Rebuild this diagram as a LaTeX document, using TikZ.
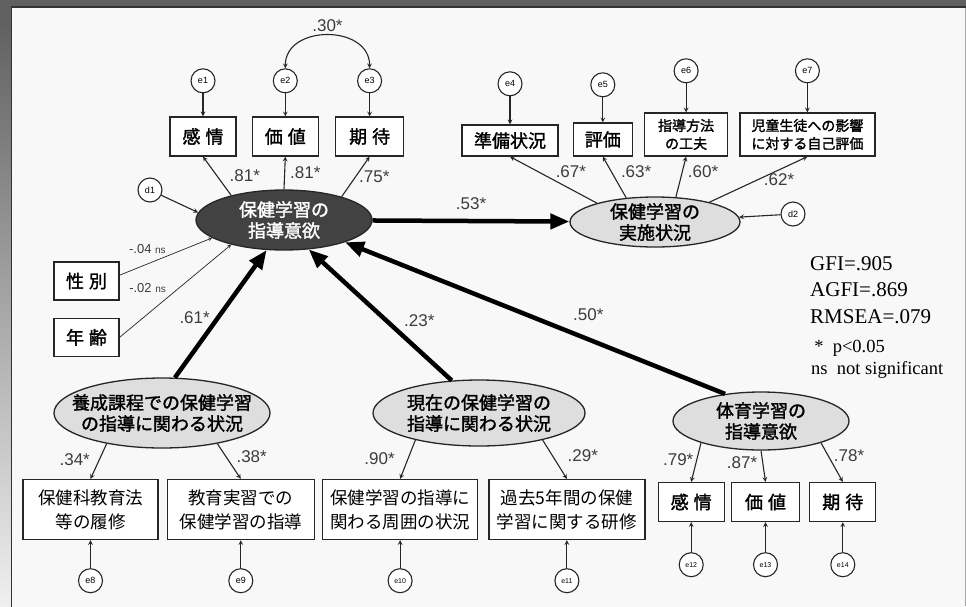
\documentclass[tikz,border=0pt]{standalone}
\usepackage{fontspec}
\setmainfont{Liberation Serif}
\newfontfamily\jpfont{Noto Sans CJK JP}
\newfontfamily\jpbold[FakeBold=1.6]{Noto Sans CJK JP}
\newfontfamily\numfont{Liberation Sans}
\usepackage{tikz}
\usetikzlibrary{shapes,arrows,arrows.meta,positioning,calc}
\usepackage{xcolor}
\definecolor{framegray}{RGB}{96,96,96}
\definecolor{panelwhite}{RGB}{248,248,248}
\definecolor{latgray}{RGB}{222,222,222}
\definecolor{darklat}{RGB}{66,66,66}
\definecolor{labelgray}{RGB}{60,60,60}

\begin{document}
\begin{tikzpicture}[
    x=1pt, y=-1pt,
    node distance=23pt,
    obsbox/.style={rectangle, draw=black!85, line width=1.3pt, fill=white, inner sep=0pt,
                   align=center, font=\jpbold\fontsize{18}{22}\selectfont},
    widebox/.style={obsbox, font=\jpfont\fontsize{17.5}{24}\selectfont},
    smallbox/.style={obsbox, font=\jpbold\fontsize{14}{18}\selectfont},
    errc/.style={circle, draw=black!85, line width=1.1pt, fill=white, minimum size=24pt,
                 inner sep=0pt, font=\numfont\fontsize{9}{9}\selectfont},
    errs/.style={errc, font=\numfont\fontsize{7}{7}\selectfont},
    latent/.style={ellipse, draw=black!85, line width=1.3pt, fill=latgray, inner xsep=-16pt,
                   inner ysep=-6pt, align=center, font=\jpbold\fontsize{18}{21}\selectfont},
    darklatent/.style={latent, fill=darklat, text=white},
    load/.style={->, >=stealth, line width=1.1pt, draw=black!85},
    demoline/.style={load, line width=0.7pt},
    heavy/.style={-{Triangle[length=19pt,width=15pt]}, line width=4.5pt, draw=black},
    coef/.style={font=\numfont\fontsize{17}{17}\selectfont, text=labelgray, inner sep=1pt},
    nscoef/.style={font=\numfont\fontsize{13}{13}\selectfont, text=labelgray, inner sep=1pt}
]
\useasboundingbox (0,0) rectangle (966,606);

% Frame
\fill[framegray] (0,0) rectangle (966,606);
\shade[top color=framegray, bottom color=black!6] (0,20) rectangle (11,606);
\filldraw[fill=panelwhite, draw=black!80, line width=1.2pt] (11.5,7) rectangle (975,610);
\draw[black!35, line width=1pt] (965,7.5) -- (965,606);

% Latent variables
\node[darklatent, minimum width=176pt, minimum height=60pt] (motiv) at (284,220) {保健学習の\\指導意欲};
\node[latent, minimum width=170pt, minimum height=50pt] (impl) at (655,222) {保健学習の\\実施状況};
\node[latent, minimum width=216pt, minimum height=70pt] (yosei) at (162,413) {養成課程での保健学習\\の指導に関わる状況};
\node[latent, minimum width=212pt, minimum height=66pt] (genzai) at (479,413) {現在の保健学習の\\指導に関わる状況};
\node[latent, minimum width=176pt, minimum height=58pt] (taiiku) at (761,421) {体育学習の\\指導意欲};

% Indicators of motivation
\node[obsbox, minimum width=66pt, minimum height=39pt] (kanjo1) at (203,136.5) {感\hspace{5pt}情};
\node[obsbox, minimum width=66pt, minimum height=39pt, right=15pt of kanjo1] (kachi1) {価\hspace{5pt}値};
\node[obsbox, minimum width=68pt, minimum height=39pt, right=16pt of kachi1] (kitai1) {期\hspace{5pt}待};
\node[errc, above=23pt of kanjo1] (e1) {e1};
\node[errc, above=23pt of kachi1] (e2) {e2};
\node[errc, above=23pt of kitai1] (e3) {e3};

% Sex and age
\node[obsbox, minimum width=65pt, minimum height=38pt] (sex) at (86.5,281) {性\hspace{5pt}別};
\node[obsbox, minimum width=65pt, minimum height=38pt, below=17pt of sex] (age) {年\hspace{5pt}齢};
\node[errc] (d1) at (150,190) {d1};
\node[errc] (d2) at (793,214) {d2};

% Indicators of implementation
\node[obsbox, minimum width=96pt, minimum height=31pt] (junbi) at (510,140.5) {準備状況};
\node[obsbox, minimum width=59pt, minimum height=33pt, right=14pt of junbi.south east, anchor=south west] (hyoka) {評価};
\node[smallbox, minimum width=83pt, minimum height=43pt, right=11pt of hyoka.south east, anchor=south west] (hoho) {指導方法\\の工夫};
\node[smallbox, minimum width=135pt, minimum height=43pt, right=11pt of hoho.south east, anchor=south west] (jido) {児童生徒への影響\\に対する自己評価};
\node[errc, above=28pt of junbi] (e4) {e4};
\node[errc, above=25pt of hyoka] (e5) {e5};
\node[errc, above=29pt of hoho] (e6) {e6};
\node[errc, above=29pt of jido] (e7) {e7};

% Indicators of the bottom factors
\node[widebox, minimum width=135pt, minimum height=60pt] (rishu) at (90.5,509.5) {保健科教育法\\等の履修};
\node[widebox, minimum width=147pt, minimum height=60pt, right=8pt of rishu] (jisshu) {教育実習での\\保健学習の指導};
\node[widebox, minimum width=155pt, minimum height=60pt, right=7pt of jisshu] (shui) {保健学習の指導に\\関わる周囲の状況};
\node[widebox, minimum width=156pt, minimum height=60pt, right=10pt of shui] (kenshu) {過去5年間の保健\\学習に関する研修};
\node[obsbox, minimum width=66pt, minimum height=39pt, below right=3pt and 12pt of kenshu.north east] (kanjo2) {感\hspace{5pt}情};
\node[obsbox, minimum width=68pt, minimum height=39pt, right=6pt of kanjo2] (kachi2) {価\hspace{5pt}値};
\node[obsbox, minimum width=66pt, minimum height=39pt, right=9pt of kachi2] (kitai2) {期\hspace{5pt}待};
\node[errc, below=28pt of rishu] (e8) {e8};
\node[errc, below=28pt of jisshu] (e9) {e9};
\node[errs, below=28pt of shui] (e10) {e10};
\node[errs, below=28pt of kenshu] (e11) {e11};
\node[errs, below=30pt of kanjo2] (e12) {e12};
\node[errs, below=30pt of kachi2] (e13) {e13};
\node[errs, below=30pt of kitai2] (e14) {e14};

% Loadings
\draw[load] (motiv.155) -- node[coef, pos=0.5, right=11pt] {.81*} (kanjo1.south);
\draw[load] (motiv.90) -- node[coef, pos=0.5, right=4pt] {.81*} (kachi1.south);
\draw[load] (motiv.22) -- node[coef, pos=0.5, right=2pt] {.75*} (kitai1.south);
\draw[load] (impl.162) -- node[coef, pos=0.3, above=10pt] {.67*} (junbi.south);
\draw[load] (impl.140) -- node[coef, pos=0.63, right=8pt] {.63*} (hyoka.south);
\draw[load] (impl.50) -- node[coef, pos=0.63, right=4pt] {.60*} (hoho.south);
\draw[load] (impl.20) -- node[coef, pos=0.71, below=2pt] {.62*} (jido.south);
\draw[load] (yosei.209) -- node[coef, pos=0.45, left=8pt] {.34*} (rishu.north);
\draw[load] (yosei.331) -- node[coef, pos=0.37, right=9pt] {.38*} (jisshu.north);
\draw[load] (genzai.203) -- node[coef, pos=0.47, left=12pt] {.90*} (shui.north);
\draw[load] (genzai.337) -- node[coef, pos=0.39, right=14pt] {.29*} (kenshu.north);
\draw[load] (taiiku.200) -- node[coef, pos=0.42, left=2pt] {.79*} (kanjo2.north);
\draw[load] (taiiku.south) -- node[coef, pos=0.37, left=4pt] {.87*} (kachi2.north);
\draw[load] (taiiku.340) -- node[coef, pos=0.34, right=4pt] {.78*} (kitai2.north);

% Covariance
\draw[load, <->] (e2.north) .. controls +(0,-44) and +(0,-44) .. node[coef, above=2pt] {.30*} (e3.north);

% Structural paths
\draw[heavy] (motiv) -- node[coef, above=8pt] {.53*} (impl);
\draw[heavy] (yosei.70) -- node[coef, pos=0.47, left=5pt] {.61*} (motiv.240);
\draw[heavy] (genzai.130) -- node[coef, pos=0.46, right=15pt] {.23*} (motiv.310);
\draw[heavy] (taiiku.143) -- node[coef, pos=0.36, above=15pt] {.50*} (motiv.340);
\draw[demoline] (sex.10) -- node[nscoef, pos=0.3, above=9pt] {-.04 {\fontsize{10}{10}\selectfont ns}} (motiv.194);
\draw[demoline] (age.east) -- node[nscoef, pos=0.25, above=20pt] {-.02 {\fontsize{10}{10}\selectfont ns}} (motiv.205);

% Disturbances and errors
\draw[load] (d1) -- (motiv.175);
\draw[load] (d2) -- (impl);
\draw[load] (e1) -- (kanjo1);
\draw[load] (e2) -- (kachi1);
\draw[load] (e3) -- (kitai1);
\draw[load] (e4) -- (junbi);
\draw[load] (e5) -- (hyoka);
\draw[load] (e6) -- (hoho);
\draw[load] (e7) -- (jido);
\draw[load] (e8) -- (rishu);
\draw[load] (e9) -- (jisshu);
\draw[load] (e10) -- (shui);
\draw[load] (e11) -- (kenshu);
\draw[load] (e12) -- (kanjo2);
\draw[load] (e13) -- (kachi2);
\draw[load] (e14) -- (kitai2);

% Fit indices
\node[anchor=north west, align=left, inner sep=0pt, font=\fontsize{21}{26.5}\selectfont] (fitidx) at (810,256)
     {GFI=.905\\AGFI=.869\\RMSEA=.079};
\node[anchor=north west, align=left, inner sep=0pt, font=\fontsize{18.5}{22}\selectfont] (sigkey) at (811,340)
     {\,*\ \ p<0.05\\ns\ \ not significant};

\end{tikzpicture}
\end{document}
